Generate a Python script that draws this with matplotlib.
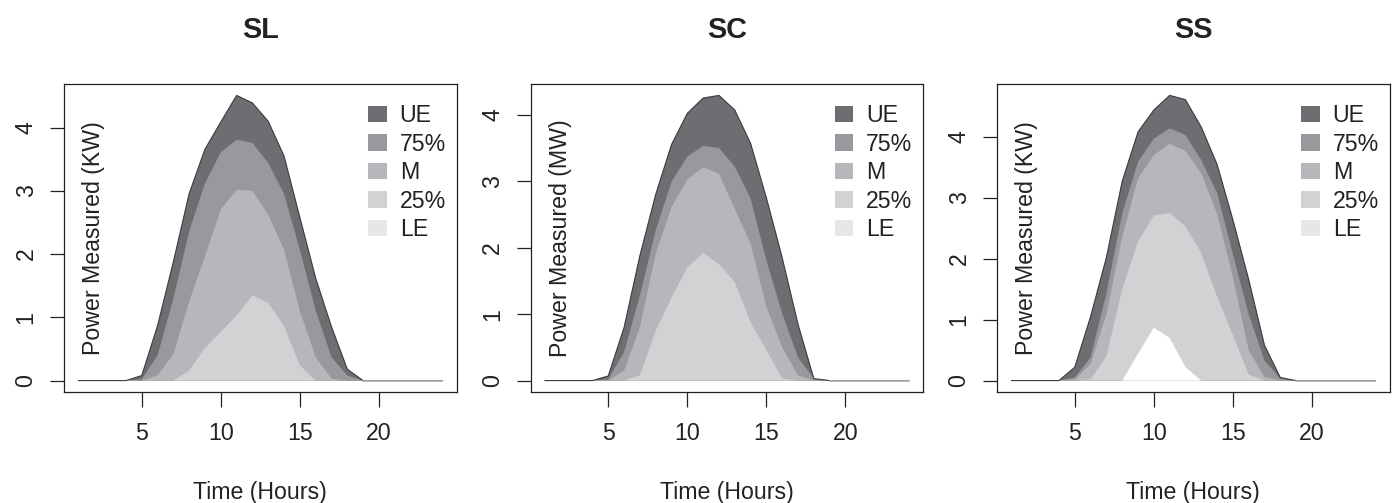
import numpy as np
import matplotlib
matplotlib.use("Agg")
import matplotlib.pyplot as plt
from matplotlib.patches import Patch

plt.rcParams["font.family"] = ["Liberation Sans", "DejaVu Sans"]
plt.rcParams["text.color"] = "#222222"
plt.rcParams["axes.labelcolor"] = "#222222"
plt.rcParams["xtick.color"] = "#222222"
plt.rcParams["ytick.color"] = "#222222"

hours = np.arange(1, 25)

# SL site (KW)
sl_ue = [0, 0, 0, 0, 0.08, 0.87, 1.88, 2.96, 3.66, 4.09, 4.51, 4.39, 4.10, 3.55, 2.58, 1.62, 0.85, 0.18, 0, 0, 0, 0, 0, 0]
sl_q75 = [0, 0, 0, 0, 0.02, 0.40, 1.30, 2.36, 3.12, 3.61, 3.81, 3.76, 3.44, 2.95, 2.07, 1.11, 0.37, 0.08, 0, 0, 0, 0, 0, 0]
sl_med = [0, 0, 0, 0, 0, 0.08, 0.42, 1.25, 1.97, 2.71, 3.02, 3.00, 2.62, 2.07, 1.10, 0.37, 0.03, 0, 0, 0, 0, 0, 0, 0]
sl_q25 = [0, 0, 0, 0, 0, 0, 0, 0.16, 0.52, 0.77, 1.03, 1.35, 1.23, 0.86, 0.24, 0, 0, 0, 0, 0, 0, 0, 0, 0]
sl_le = [0] * 24

# SC site (MW)
sc_ue = [0, 0, 0, 0, 0.07, 0.80, 1.88, 2.80, 3.55, 4.02, 4.25, 4.29, 4.07, 3.57, 2.75, 1.85, 0.85, 0.03, 0, 0, 0, 0, 0, 0]
sc_q75 = [0, 0, 0, 0, 0.02, 0.43, 1.28, 2.26, 2.99, 3.37, 3.53, 3.50, 3.22, 2.74, 1.81, 1.01, 0.35, 0.03, 0, 0, 0, 0, 0, 0]
sc_med = [0, 0, 0, 0, 0, 0.15, 0.80, 1.91, 2.61, 3.03, 3.21, 3.11, 2.58, 2.06, 1.11, 0.50, 0.08, 0, 0, 0, 0, 0, 0, 0]
sc_q25 = [0, 0, 0, 0, 0, 0, 0.08, 0.75, 1.25, 1.70, 1.92, 1.75, 1.48, 0.88, 0.46, 0.03, 0, 0, 0, 0, 0, 0, 0, 0]
sc_le = [0] * 24

# SS site (KW)
ss_ue = [0, 0, 0, 0, 0.22, 1.05, 2.02, 3.27, 4.08, 4.44, 4.68, 4.61, 4.16, 3.55, 2.64, 1.66, 0.58, 0.05, 0, 0, 0, 0, 0, 0]
ss_q75 = [0, 0, 0, 0, 0.05, 0.38, 1.43, 2.74, 3.59, 3.97, 4.14, 4.03, 3.62, 3.08, 2.08, 1.09, 0.33, 0.03, 0, 0, 0, 0, 0, 0]
ss_med = [0, 0, 0, 0, 0.02, 0.27, 1.09, 2.36, 3.32, 3.70, 3.89, 3.77, 3.40, 2.74, 1.70, 0.50, 0.06, 0, 0, 0, 0, 0, 0, 0]
ss_q25 = [0, 0, 0, 0, 0, 0.02, 0.40, 1.50, 2.28, 2.71, 2.75, 2.53, 2.09, 1.38, 0.75, 0.10, 0, 0, 0, 0, 0, 0, 0, 0]
ss_le = [0, 0, 0, 0, 0, 0, 0, 0, 0.44, 0.87, 0.70, 0.22, 0, 0, 0, 0, 0, 0, 0, 0, 0, 0, 0, 0]

titles = ["SL", "SC", "SS"]
ylabels = ["Power Measured (KW)", "Power Measured (MW)", "Power Measured (KW)"]
series_names = ["UE", "75%", "M", "25%", "LE"]
panels = [
    [sl_ue, sl_q75, sl_med, sl_q25, sl_le],
    [sc_ue, sc_q75, sc_med, sc_q25, sc_le],
    [ss_ue, ss_q75, ss_med, ss_q25, ss_le],
]

legend_colors = ["#6d6e71", "#98999c", "#b6b7ba", "#d1d2d4", "#e6e7e8"]
fill_colors = ["#6d6e71", "#98999c", "#b6b7ba", "#d1d2d4", "#ffffff"]

FS = 16.7

W, H = 1394, 503
fig = plt.figure(figsize=(W / 100, H / 100), dpi=100)

lefts = [64, 530.5, 997]
box_w, box_h, box_bottom = 392.7, 308, 111

for i, (left, title, ylab, bands) in enumerate(zip(lefts, titles, ylabels, panels)):
    ax = fig.add_axes([left / W, box_bottom / H, box_w / W, box_h / H])
    bands = [np.asarray(b, dtype=float) for b in bands]
    ue = bands[0]

    for vals, col in zip(bands, fill_colors):
        ax.fill_between(hours, 0, vals, facecolor=col, edgecolor="none", lw=0)

    # outline of the upper envelope, with the trailing zero stretch in light grey
    ax.plot(hours, ue, color="#3a3a3a", lw=0.8, solid_joinstyle="miter")
    tail = hours >= hours[np.argmax(ue)]
    tail &= ue == 0
    ax.plot(hours[tail], ue[tail], color="#b3b3b3", lw=1.2)

    span = hours.max() - hours.min()
    ax.set_xlim(hours.min() - 0.04 * span, hours.max() + 0.04 * span)
    ymax = ue.max()
    ax.set_ylim(-0.04 * ymax, ymax * 1.04)

    ax.set_xticks([5, 10, 15, 20])
    ax.set_yticks([0, 1, 2, 3, 4])
    ax.tick_params(axis="x", length=10.8, width=0.9, pad=11, labelsize=FS)
    ax.tick_params(axis="y", length=10, width=0.9, pad=9, labelsize=FS,
                   labelrotation=90)
    for lab in ax.get_yticklabels():
        lab.set_va("center")

    for sp in ax.spines.values():
        sp.set_linewidth(0.9)
        sp.set_color("#222222")

    ax.set_title(title, fontsize=20.8, fontweight="bold", pad=33)

    ax.set_xlabel("Time (Hours)", fontsize=FS)
    ax.xaxis.set_label_coords(0.5, -0.29)

    ax.set_ylabel(ylab, fontsize=FS)
    ax.yaxis.label.set_va("center")
    ax.yaxis.set_label_coords(0.076, 0.5)

    handles = [Patch(facecolor=c, edgecolor="none") for c in legend_colors]
    ax.legend(handles, series_names, loc="upper left", bbox_to_anchor=(0.775, 0.935),
              frameon=False, fontsize=FS, handlelength=0.8, handleheight=0.72,
              handletextpad=0.55, labelspacing=0.24, borderpad=0, borderaxespad=0)

fig.savefig("out.png", dpi=100)
